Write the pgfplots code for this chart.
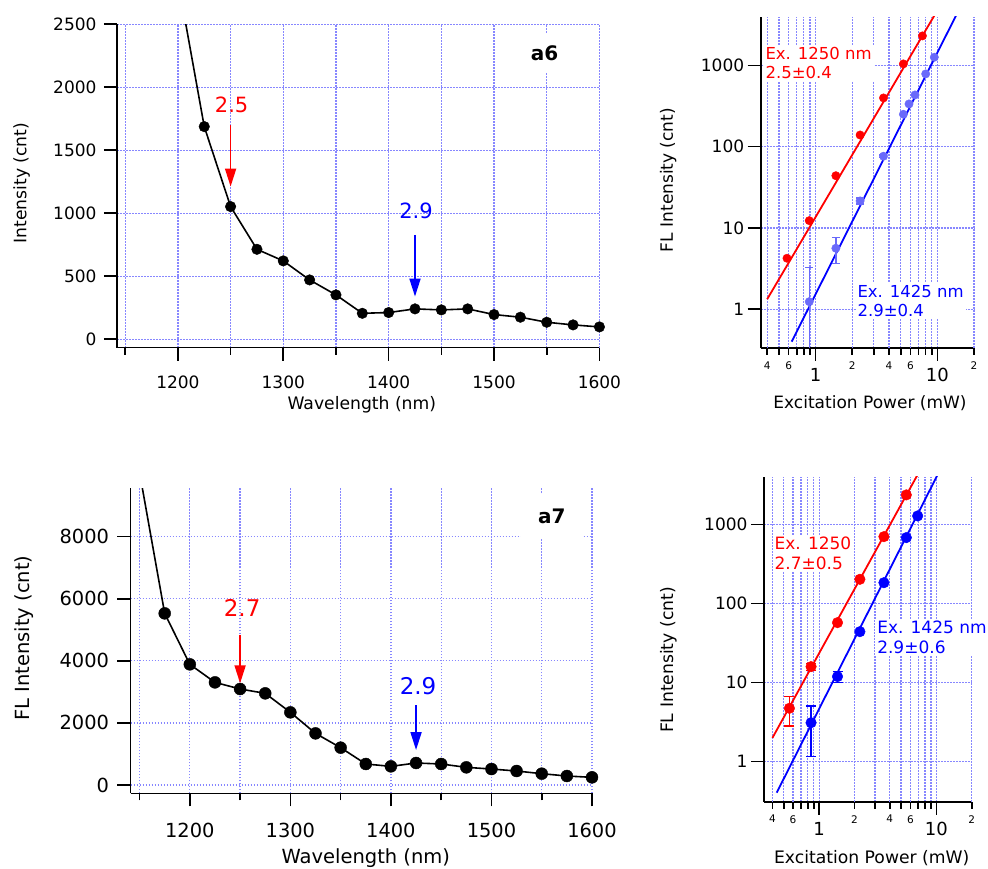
\documentclass[border=0pt]{standalone}
\usepackage{pgfplots}
\pgfplotsset{compat=1.18}
\usepackage{fontspec}
\setmainfont{DejaVu Sans}
\usetikzlibrary{arrows.meta}
\definecolor{gridblue}{RGB}{135,135,255}
\definecolor{lightblue}{RGB}{105,105,250}
\newcommand{\fs}[1]{\fontsize{#1}{#1}\selectfont}
\pgfplotsset{
  igor/.style={
    scale only axis, anchor=south west,
    axis x line*=bottom, axis y line*=left,
    axis line style={-, line width=1.6pt, black},
    tick align=outside,
    major tick length=13pt, minor tick length=7pt,
    tick style={black, line width=1.6pt},
    grid=both,
    major grid style={gridblue, line width=1.2pt, dash pattern=on 1.8pt off 1.2pt},
    minor grid style={gridblue, line width=1.2pt, dash pattern=on 1.8pt off 1.2pt},
    /pgf/number format/assume math mode=true,
    /pgf/number format/1000 sep={},
    scaled ticks=false,
    clip mode=individual,
  },
  myloglog/.style={
    igor,
    grid=none, xmajorgrids=true, xminorgrids=true, ymajorgrids=true, yminorgrids=false,
    xtick={1,10}, xticklabels={1,10},
    minor xtick={0.5,0.7,0.8,0.9,3,5,7,8,9},
    extra x ticks={0.4,0.6,2,4,6,20},
    extra x tick labels={4,6,2,4,6,2},
    extra x tick style={major tick length=7pt, grid=major,
      xticklabel style={font=\fs{10.5}, yshift=1pt}},
    ytick={1,10,100,1000}, yticklabels={1,10,100,1000},
    yminorticks=false,
    xticklabel style={font=\fs{18}, yshift=-4pt},
    yticklabel style={font=\fs{17}},
    label style={font=\fs{17}},
  },
}
\begin{document}
\begin{tikzpicture}
\useasboundingbox (0pt,0pt) rectangle (988pt,868pt);

% ---------------- a6 left
\begin{axis}[igor, at={(117pt,520.3pt)}, width=482.4pt, height=323.4pt,
  xmin=1142.2, xmax=1600, ymin=-67, ymax=2500,
  xtick={1200,1300,...,1600}, minor xtick={1150,1250,...,1550},
  ytick={0,500,...,2500},
  tick label style={font=\fs{17}},
  xticklabel style={yshift=-12pt}, yticklabel style={xshift=-4pt},
  xlabel={Wavelength (nm)}, ylabel={Intensity (cnt)},
  label style={font=\fs{17.2}},
  xlabel style={at={(axis description cs:0.5075,-0.177)}, anchor=center},
  ylabel style={at={(axis description cs:-0.1976,0.509)}, anchor=center},
]
\addplot[black, line width=1.6pt] coordinates {
 (1200,2850) (1225,1688) (1250,1053) (1275,714) (1300,622) (1325,471)
 (1350,352) (1375,206) (1400,212) (1425,241) (1450,233) (1475,241)
 (1500,196) (1525,175) (1550,135) (1575,114) (1600,98)};
\addplot[only marks, mark=*, mark size=5.3pt, black] coordinates {
 (1225,1688) (1250,1053) (1275,714) (1300,622) (1325,471)
 (1350,352) (1375,206) (1400,212) (1425,241) (1450,233) (1475,241)
 (1500,196) (1525,175) (1550,135) (1575,114) (1600,98)};
\draw[red, line width=1.8pt, -{Triangle[length=18pt,width=11pt]}] (axis cs:1250,1701) -- (axis cs:1250,1212);
\draw[blue, line width=1.8pt, -{Triangle[length=18pt,width=11pt]}] (axis cs:1425,828) -- (axis cs:1425,339);
\node[text=red, font=\fs{21}] at (axis cs:1251,1860) {2.5};
\node[text=blue, font=\fs{21}] at (axis cs:1426,1021) {2.9};
\node[fill=white, minimum width=61pt, minimum height=39pt, font=\bfseries\fs{20}] at (axis cs:1548,2270) {a6};
\end{axis}

% ---------------- a7 left
\begin{axis}[igor, at={(130.5pt,74.7pt)}, width=461.5pt, height=305pt,
  xmin=1141, xmax=1600, ymin=-267, ymax=9559,
  xtick={1200,1300,...,1600}, minor xtick={1150,1250,...,1550},
  ytick={0,2000,...,8000},
  tick label style={font=\fs{19.4}},
  xticklabel style={yshift=-13pt}, yticklabel style={xshift=-5pt},
  xlabel={Wavelength (nm)}, ylabel={FL Intensity (cnt)},
  label style={font=\fs{19.5}},
  xlabel style={at={(axis description cs:0.5099,-0.2131)}, anchor=center},
  ylabel style={at={(axis description cs:-0.2314,0.509)}, anchor=center},
]
\addplot[black, line width=1.6pt] coordinates {
 (1150,10070) (1175,5530) (1200,3887) (1225,3307) (1250,3093) (1275,2953)
 (1300,2341) (1325,1664) (1350,1203) (1375,677) (1400,601) (1425,709)
 (1450,677) (1475,569) (1500,515) (1525,451) (1550,365) (1575,290) (1600,247)};
\addplot[only marks, mark=*, mark size=6pt, black] coordinates {
 (1175,5530) (1200,3887) (1225,3307) (1250,3093) (1275,2953)
 (1300,2341) (1325,1664) (1350,1203) (1375,677) (1400,601) (1425,709)
 (1450,677) (1475,569) (1500,515) (1525,451) (1550,365) (1575,290) (1600,247)};
\draw[red, line width=1.8pt, -{Triangle[length=18pt,width=11pt]}] (axis cs:1250,4832) -- (axis cs:1250,3275);
\draw[blue, line width=1.8pt, -{Triangle[length=18pt,width=11pt]}] (axis cs:1425,2577) -- (axis cs:1425,1127);
\node[text=red, font=\fs{23}] at (axis cs:1252,5691) {2.7};
\node[text=blue, font=\fs{23}] at (axis cs:1427,3189) {2.9};
\node[fill=white, minimum width=61pt, minimum height=45pt, font=\bfseries\fs{20}] at (axis cs:1560,8666) {a7};
\end{axis}

% ---------------- a6 right
\begin{axis}[xmode=log, ymode=log, myloglog, at={(760.7pt,520pt)}, width=213.3pt, height=331.3pt,
  xmin=0.354, xmax=20, ymin=0.334, ymax=3962,
  xlabel={Excitation Power (mW)}, ylabel={FL Intensity (cnt)},
  xlabel style={at={(axis description cs:0.5124,-0.166)}, anchor=center},
  ylabel style={at={(axis description cs:-0.4332,0.507)}, anchor=center},
]
\node[fill=white, text=red, font=\fs{16.5}, align=left, anchor=west, inner sep=2pt] at (axis cs:0.372,1070) {Ex. 1250 nm\\[3pt]2.5±0.4};
\node[fill=white, text=blue, font=\fs{16.5}, align=left, anchor=west, inner sep=2pt] at (axis cs:2.12,1.265) {Ex. 1425 nm\\[3pt]2.9±0.4};
\addplot[red, line width=1.8pt] coordinates {(0.4,1.33) (10,4730)};
\addplot[blue, line width=1.8pt] coordinates {(0.636,0.40) (15,4776)};
\addplot[only marks, mark=*, mark size=4.2pt, red] coordinates {
 (0.582,4.24) (0.887,12.3) (1.467,43.9) (2.32,139) (3.61,397) (5.26,1041) (7.54,2300)};
\addplot[only marks, mark=*, mark size=4.2pt, lightblue] coordinates {
 (5.26,250) (5.85,335) (6.55,432) (8.02,784) (9.44,1257)};
\addplot[only marks, mark=*, mark size=4.2pt, lightblue,
  error bars/.cd, y dir=both, y explicit, error mark=|,
  error bar style={line width=1.4pt, lightblue},
  error mark options={mark size=4pt, line width=1.4pt, lightblue}]
 coordinates {
 (0.887,1.24) += (0,2.0) -= (0,1.04)
 (1.467,5.63) +- (0,2.0)
 (2.32,21.5) +- (0,1.8)
 (3.61,76.2) +- (0,3)};
\end{axis}

% ---------------- a7 right
\begin{axis}[xmode=log, ymode=log, myloglog, at={(764pt,66.3pt)}, width=207.7pt, height=325pt,
  xmin=0.339, xmax=20, ymin=0.312, ymax=4000,
  xlabel={Excitation Power (mW)}, ylabel={FL Intensity (cnt)},
  label style={font=\fs{17.2}},
  xlabel style={at={(axis description cs:0.5185,-0.174)}, anchor=center},
  ylabel style={at={(axis description cs:-0.4608,0.436)}, anchor=center},
]
\node[fill=white, text=red, font=\fs{17}, align=left, anchor=west, inner sep=2pt] at (axis cs:0.40,426) {Ex. 1250\\[3pt]2.7±0.5};
\node[fill=white, text=blue, font=\fs{17}, align=left, anchor=west, inner sep=2pt] at (axis cs:3.0,37.7) {Ex. 1425 nm\\[3pt]2.9±0.6};
\addplot[red, line width=1.8pt] coordinates {(0.4,2.0) (8,6270)};
\addplot[blue, line width=1.8pt] coordinates {(0.435,0.406) (12,6740)};
\addplot[only marks, mark=*, mark size=5.3pt, red] coordinates {
 (1.435,57.2) (2.227,202) (3.57,699) (5.54,2354)};
\addplot[only marks, mark=*, mark size=5.3pt, red,
  error bars/.cd, y dir=both, y explicit, error mark=|,
  error bar style={line width=1.4pt, red},
  error mark options={mark size=5pt, line width=1.4pt, red}]
 coordinates {
 (0.558,4.73) +- (0,1.9)
 (0.854,15.9) +- (0,1.6)};
\addplot[only marks, mark=*, mark size=5.3pt, blue] coordinates {
 (2.227,44.0) (3.57,183) (5.54,679) (6.92,1277)};
\addplot[only marks, mark=*, mark size=5.3pt, blue,
  error bars/.cd, y dir=both, y explicit, error mark=|,
  error bar style={line width=1.4pt, blue},
  error mark options={mark size=5pt, line width=1.4pt, blue}]
 coordinates {
 (0.854,3.11) +- (0,1.95)
 (1.435,11.9) +- (0,1.9)};
\end{axis}
\end{tikzpicture}
\end{document}
